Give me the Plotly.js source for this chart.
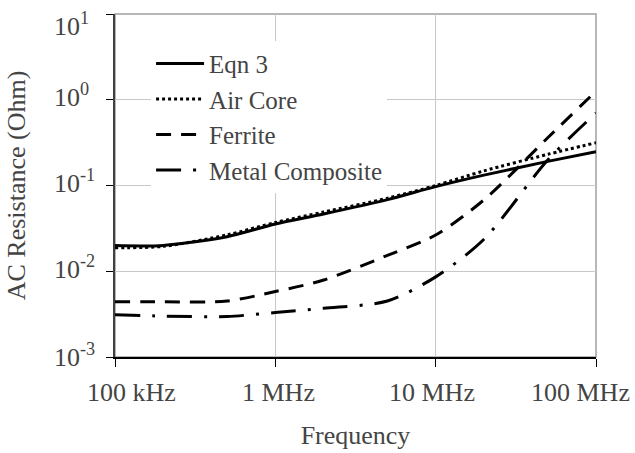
<!DOCTYPE html>
<html><head><meta charset="utf-8">
<script src="https://cdn.plot.ly/plotly-3.0.1.min.js"></script>
<style>html,body{margin:0;padding:0;background:#fff;}#chart{width:635px;height:453px;}</style>
</head><body>
<div id="chart"></div>
<script>
// Data
const freqHz = [1e5, 2e5, 5e5, 1e6, 2e6, 5e6, 1e7, 2e7, 5e7, 1e8];
const eqn3 = [0.0199, 0.0200, 0.0253, 0.0356, 0.0466, 0.0684, 0.097, 0.132, 0.191, 0.248];
const airCore = [0.0188, 0.0195, 0.0266, 0.037, 0.049, 0.071, 0.100, 0.148, 0.231, 0.315];
const ferrite = [0.0044, 0.0044, 0.0045, 0.0058, 0.0079, 0.0153, 0.0265, 0.068, 0.36, 1.26];
const metalComposite = [0.0031, 0.0030, 0.00297, 0.0033, 0.0037, 0.0045, 0.0086, 0.0236, 0.198, 0.70];
const seriesNames = ['Eqn 3', 'Air Core', 'Ferrite', 'Metal Composite'];
const xTickVals = [1e5, 1e6, 1e7, 1e8];
const xTickText = ['100 kHz', '1 MHz', '10 MHz', '100 MHz'];
const yTickVals = [1e-3, 1e-2, 1e-1, 1e0, 1e1];
const yTickText = ['10<sup>-3</sup>', '10<sup>-2</sup>', '10<sup>-1</sup>', '10<sup>0</sup>', '10<sup>1</sup>'];

const FONT = 'Liberation Serif';
const TXT = '#444444';
const dashes = ['solid', 'dot', '15px,10px', '25px,12px,3px,12px'];
const seriesValues = [eqn3, airCore, ferrite, metalComposite];

function draw() {
  const traces = seriesValues.map((ys, i) => ({
    x: freqHz, y: ys, name: seriesNames[i], type: 'scatter', mode: 'lines',
    line: {color: '#000', width: 3, dash: dashes[i], shape: 'spline', smoothing: 0.8}
  }));

  // Tick labels drawn as annotations so that they can sit where the reference puts them
  const xLabelShift = [16, 3, -4, -16];
  const yLabelShift = [-2, 0, 0, 0, -14];
  const annotations = [];
  xTickVals.forEach((v, i) => annotations.push({
    xref: 'x', yref: 'paper', x: Math.log10(v), y: 0, xanchor: 'center', yanchor: 'middle',
    xshift: xLabelShift[i], yshift: -35, text: xTickText[i], showarrow: false,
    font: {family: FONT, size: 26, color: TXT}
  }));
  yTickVals.forEach((v, i) => annotations.push({
    xref: 'paper', yref: 'y', x: -63 / 481, y: Math.log10(v), xanchor: 'left', yanchor: 'middle',
    yshift: yLabelShift[i] + 4, text: yTickText[i], showarrow: false,
    font: {family: FONT, size: 26, color: TXT}
  }));

  const layout = {
    width: 635, height: 453,
    margin: {l: 115, r: 39, t: 14, b: 96},
    paper_bgcolor: '#fff', plot_bgcolor: '#fff',
    font: {family: FONT, size: 26, color: TXT},
    showlegend: true,
    legend: {x: 0.075, y: 0.922, xanchor: 'left', yanchor: 'top', bgcolor: '#fff',
             borderwidth: 0, font: {family: FONT, size: 25, color: TXT}, itemwidth: 48,
             tracegroupgap: 0},
    xaxis: {
      type: 'log', range: [5, 8], tickvals: xTickVals, showticklabels: false,
      showgrid: true, gridcolor: '#c8c8c8', gridwidth: 1,
      showline: true, linecolor: '#000', linewidth: 1.5,
      ticks: 'outside', ticklen: 8, tickcolor: '#000', tickwidth: 1,
      zeroline: false,
      title: {text: 'Frequency', font: {family: FONT, size: 26, color: TXT}, standoff: 60}
    },
    yaxis: {
      type: 'log', range: [-3, 1], tickvals: yTickVals, showticklabels: false,
      showgrid: true, gridcolor: '#c8c8c8', gridwidth: 1,
      showline: true, linecolor: '#404040', linewidth: 2,
      ticks: 'outside', ticklen: 7, tickcolor: '#000', tickwidth: 1,
      zeroline: false,
      title: {text: 'AC Resistance (Ohm)', font: {family: FONT, size: 26, color: TXT}, standoff: 73}
    },
    annotations: annotations,
    shapes: [{type: 'rect', xref: 'paper', yref: 'paper', x0: 0, x1: 1, y0: 0, y1: 1,
              line: {color: '#a0a0a0', width: 1.5}, layer: 'below'}]
  };

  Plotly.newPlot('chart', traces, layout, {displayModeBar: false});
}

draw();
</script>
</body></html>
